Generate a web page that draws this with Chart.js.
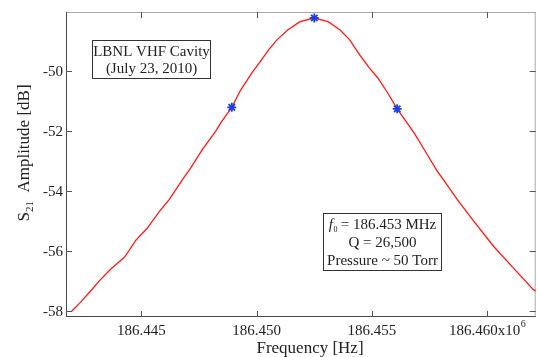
<!DOCTYPE html>
<html>
<head>
<meta charset="utf-8">
<script src="https://cdn.jsdelivr.net/npm/chart.js@4"></script>
<style>
  html, body { margin: 0; padding: 0; background: #fff; }
  #wrap { width: 538px; height: 357px; overflow: hidden; position: relative; }
  canvas { display: block; }
</style>
</head>
<body>
<div id="wrap"><canvas id="s21Chart" width="542" height="357"></canvas></div>
<script>
// Measured S21 trace, frequency in MHz (axis shown as x10^6 Hz)
const freqMHz = [
    186.44197, 186.44233, 186.44283, 186.44319, 186.44366, 186.44427, 186.44477,
    186.44524, 186.44578, 186.44621, 186.44678, 186.44714, 186.44764, 186.44822,
    186.44844, 186.44892, 186.44930, 186.44980, 186.45009, 186.45052, 186.45088,
    186.45136, 186.45188, 186.45250, 186.45310, 186.45361, 186.45404, 186.45447,
    186.45490, 186.45526, 186.45569, 186.45610, 186.45684, 186.45741, 186.45785,
    186.45806, 186.45871, 186.45943, 186.46029, 186.46115, 186.46201, 186.46215
];
const ampDb = [
    -58.02, -57.74, -57.31, -56.99, -56.62, -56.21, -55.64,
    -55.26, -54.69, -54.29, -53.63, -53.24, -52.63, -52.02,
    -51.74, -51.22, -50.65, -50.06, -49.76, -49.30, -48.97,
    -48.63, -48.36, -48.24, -48.36, -48.63, -48.97, -49.47,
    -49.91, -50.24, -50.74, -51.27, -52.08, -52.80, -53.36,
    -53.58, -54.30, -55.02, -55.86, -56.58, -57.30, -57.35
];

// peak and -3 dB points
const markerFreq = [186.44892, 186.45250, 186.45610];
const markerAmp = [-51.22, -48.24, -51.27];

const xTicks = [186.445, 186.450, 186.455, 186.460];
const yTicks = [-58, -56, -54, -52, -50];

const serif = '"Liberation Serif", "DejaVu Serif", serif';

function pts(xs, ys) {
    return xs.map((x, i) => ({ x: x, y: ys[i] }));
}

// axes box, inward ticks, labels and annotation boxes (MATLAB style)
const matlabAxes = {
    id: 'matlabAxes',
    beforeDatasetsDraw(chart) {
        const ctx = chart.ctx;
        const a = chart.chartArea;
        const xs = chart.scales.x, ys = chart.scales.y;
        ctx.save();
        ctx.lineWidth = 1;
        // top / right edges lighter
        ctx.strokeStyle = '#a8a8a8';
        ctx.beginPath();
        ctx.moveTo(a.left, a.top + 0.5); ctx.lineTo(a.right, a.top + 0.5);
        ctx.moveTo(a.right - 0.5, a.top); ctx.lineTo(a.right - 0.5, a.bottom);
        ctx.stroke();
        ctx.strokeStyle = '#4a4a4a';
        ctx.beginPath();
        ctx.moveTo(a.left + 0.5, a.top); ctx.lineTo(a.left + 0.5, a.bottom);
        ctx.moveTo(a.left, a.bottom - 0.5); ctx.lineTo(a.right, a.bottom - 0.5);
        ctx.stroke();

        const tl = 6;
        ctx.strokeStyle = '#555';
        ctx.beginPath();
        xTicks.forEach(v => {
            const px = Math.round(xs.getPixelForValue(v)) + 0.5;
            ctx.moveTo(px, a.bottom); ctx.lineTo(px, a.bottom - tl);
            ctx.moveTo(px, a.top); ctx.lineTo(px, a.top + tl);
        });
        yTicks.forEach(v => {
            const py = Math.round(ys.getPixelForValue(v)) + 0.5;
            ctx.moveTo(a.left, py); ctx.lineTo(a.left + tl, py);
            ctx.moveTo(a.right, py); ctx.lineTo(a.right - tl, py);
        });
        ctx.stroke();

        // tick labels
        ctx.fillStyle = '#222';
        ctx.font = '15px ' + serif;
        ctx.textBaseline = 'middle';
        ctx.textAlign = 'right';
        yTicks.forEach(v => {
            ctx.fillText(String(v), a.left - 3, ys.getPixelForValue(v) + 1);
        });
        xTicks.forEach((v, i) => {
            const px = xs.getPixelForValue(v);
            const txt = v.toFixed(3);
            if (i === xTicks.length - 1) {
                const main = txt + 'x10';
                ctx.font = '15px ' + serif;
                const w1 = ctx.measureText(main).width;
                ctx.font = '10px ' + serif;
                const w2 = ctx.measureText('6').width;
                const x0 = px - (w1 + w2) / 2;
                ctx.textAlign = 'left';
                ctx.font = '15px ' + serif;
                ctx.fillText(main, x0, 331);
                ctx.font = '10px ' + serif;
                ctx.fillText('6', x0 + w1 + 0.5, 324);
            } else {
                ctx.textAlign = 'center';
                ctx.font = '15px ' + serif;
                ctx.fillText(txt, px, 331);
            }
        });

        // axis titles
        ctx.font = '17px ' + serif;
        ctx.textAlign = 'center';
        ctx.fillText('Frequency [Hz]', 310, 349);

        ctx.save();
        ctx.translate(25, 153);
        ctx.rotate(-Math.PI / 2);
        ctx.font = '17px ' + serif;
        const sW = ctx.measureText('S').width;
        ctx.font = '11px ' + serif;
        const subW = ctx.measureText('21').width;
        ctx.font = '17px ' + serif;
        const restW = ctx.measureText('  Amplitude [dB]').width;
        let x0 = -(sW + subW + restW) / 2;
        ctx.textAlign = 'left';
        ctx.fillText('S', x0, 0);
        ctx.font = '11px ' + serif;
        ctx.fillText('21', x0 + sW, 5);
        ctx.font = '17px ' + serif;
        ctx.fillText('  Amplitude [dB]', x0 + sW + subW, 0);
        ctx.restore();

        // annotation boxes
        ctx.strokeStyle = '#333';
        ctx.fillStyle = '#fff';
        ctx.lineWidth = 1;
        ctx.fillRect(92.5, 40.5, 118, 38);
        ctx.strokeRect(92.5, 40.5, 118, 38);
        ctx.fillStyle = '#222';
        ctx.font = '15px ' + serif;
        ctx.textAlign = 'center';
        ctx.fillText('LBNL VHF Cavity', 151.5, 52);
        ctx.fillText('(July 23, 2010)', 151.5, 69);

        ctx.fillStyle = '#fff';
        ctx.fillRect(323.5, 213.5, 118, 57);
        ctx.strokeRect(323.5, 213.5, 118, 57);
        ctx.fillStyle = '#222';
        // f0 line with italic f and subscript 0
        ctx.font = 'italic 15px ' + serif;
        const fW = ctx.measureText('f').width;
        ctx.font = '8px ' + serif;
        const zW = ctx.measureText('0').width;
        ctx.font = '15px ' + serif;
        const tail = ' = 186.453 MHz';
        const tW = ctx.measureText(tail).width;
        let fx = 382.5 - (fW + zW + tW) / 2;
        ctx.textAlign = 'left';
        ctx.font = 'italic 15px ' + serif;
        ctx.fillText('f', fx, 225);
        ctx.font = '8px ' + serif;
        ctx.fillText('0', fx + fW + 0.5, 230);
        ctx.font = '15px ' + serif;
        ctx.fillText(tail, fx + fW + zW, 225);
        ctx.textAlign = 'center';
        ctx.fillText('Q = 26,500', 382.5, 243);
        ctx.fillText('Pressure ~ 50 Torr', 382.5, 261);
        ctx.restore();
    }
};

const ctx = document.getElementById('s21Chart').getContext('2d');
const s21Chart = new Chart(ctx, {
    type: 'scatter',
    data: {
        datasets: [
            {
                label: 'S21',
                data: pts(freqMHz, ampDb),
                showLine: true,
                borderColor: '#ff1a1a',
                borderWidth: 1.3,
                pointRadius: 0,
                tension: 0,
                order: 2
            },
            {
                label: 'markers',
                data: pts(markerFreq, markerAmp),
                showLine: false,
                pointStyle: 'star',
                pointRadius: 4.5,
                borderColor: '#1d3fe0',
                backgroundColor: '#1d3fe0',
                borderWidth: 1.8,
                order: 1
            }
        ]
    },
    options: {
        responsive: false,
        animation: false,
        events: [],
        layout: {
            padding: { left: 66, right: 3, top: 12, bottom: 40 }
        },
        plugins: {
            legend: { display: false },
            tooltip: { enabled: false },
            title: { display: false }
        },
        scales: {
            x: {
                type: 'linear',
                display: false,
                min: 186.441724,
                max: 186.462112
            },
            y: {
                type: 'linear',
                display: false,
                min: -58.21,
                max: -48.04
            }
        }
    },
    plugins: [matlabAxes]
});
</script>
</body>
</html>
